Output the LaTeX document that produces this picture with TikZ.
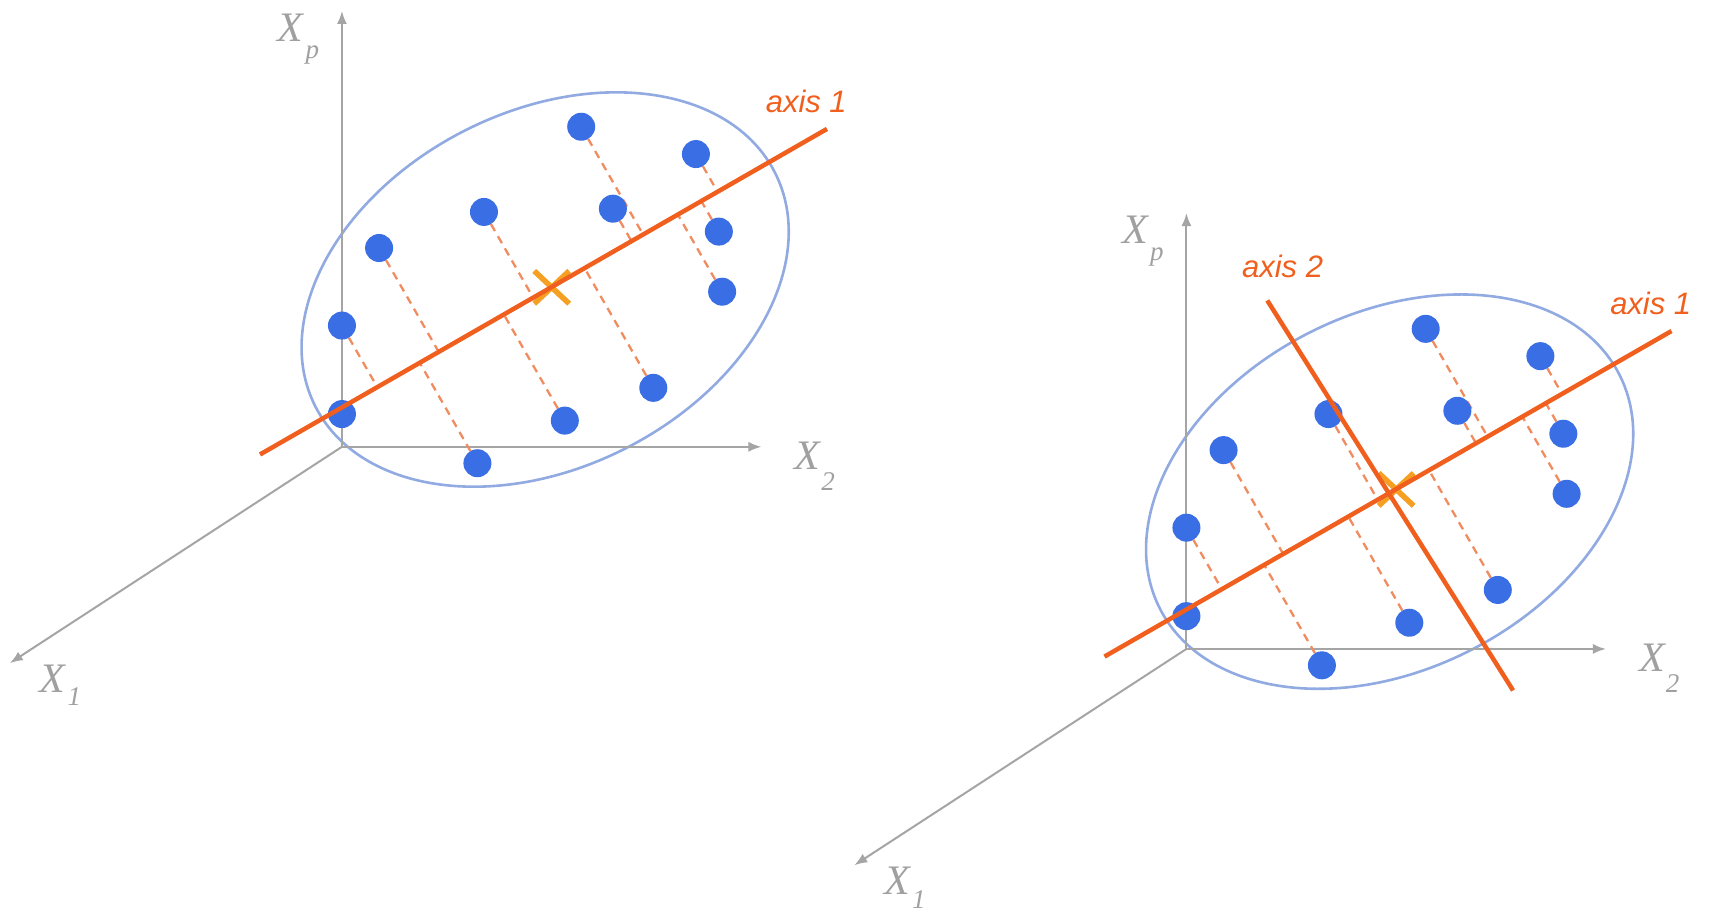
\documentclass[tikz,border=0pt]{standalone}
\usepackage{fontspec}
\setmainfont{Liberation Serif}
\newfontfamily\axisfont{Liberation Sans}
\usetikzlibrary{arrows.meta,calc}
\definecolor{dotblue}{RGB}{58,110,228}
\definecolor{ellblue}{RGB}{145,170,225}
\definecolor{axorange}{RGB}{240,95,30}
\definecolor{crossorange}{RGB}{245,160,35}
\definecolor{dashorange}{RGB}{240,140,95}
\definecolor{axgray}{RGB}{165,165,165}
\definecolor{labgray}{RGB}{160,160,160}
\tikzset{
  dotnode/.style={circle, fill=dotblue, inner sep=0pt, minimum size=28pt},
  ell/.style={draw=ellblue, line width=2.6pt},
  coordaxis/.style={draw=axgray, line width=2pt, -{Latex[length=13pt,width=10pt]}},
  pcaaxis/.style={draw=axorange, line width=4.5pt},
  projline/.style={draw=dashorange, line width=2.3pt, dash pattern=on 8pt off 6pt},
  crossline/.style={draw=crossorange, line width=5.5pt},
  varlabel/.style={text=labgray, font=\fontsize{42}{42}\selectfont\itshape, inner sep=0pt},
  sublabel/.style={text=labgray, font=\fontsize{27}{27}\selectfont\itshape, inner sep=0pt},
  axislabel/.style={text=axorange, font=\axisfont\fontsize{31}{31}\selectfont\itshape, inner sep=0pt},
}
\newcommand{\pcapanel}{%
  % coordinate axes
  \coordinate (O) at (313,409);
  \coordinate (Ptip) at (313,10);
  \coordinate (Btip) at (697,409);
  \coordinate (Atip) at (9,607);
  % data points
  \foreach \n/\px/\py in {1/532/116, 2/637/141, 3/443/194, 4/561/191, 5/658/212,
      6/347/227, 7/661/267, 8/313/298, 9/598/355, 10/517/385, 11/313/379, 12/437/424}
    {\coordinate (p\n) at (\px,\py);}
  % principal axis 1
  \coordinate (A) at (238,416);
  \coordinate (B) at (757,118);
  \coordinate (C) at (505,263);
  \coordinate (E) at (499,265);
  % ellipse
  \draw[ell, rotate around={27:(E)}] (E) ellipse [x radius=236, y radius=163];
  % axes
  \draw[coordaxis] (O) -- (Ptip);
  \draw[coordaxis] (O) -- (Btip);
  \draw[coordaxis] (O) -- (Atip);
  \node[varlabel] (xp) at (266,25) {X};
  \node[sublabel] (xps) at (286,50) {p};
  \node[varlabel] (x2) at (739,417) {X};
  \node[sublabel] (x2s) at (758,441) {2};
  \node[varlabel] (x1) at (48,621) {X};
  \node[sublabel] (x1s) at (68,638) {1};
  % projections
  \foreach \n in {1,2,3,4,5,6,7,8,9,10,12}
    {\coordinate (f\n) at ($(A)!(p\n)!(B)$);
     \draw[projline] (p\n) -- (f\n);}
  % centre cross
  \coordinate (c1) at ($(C)+(-16,-15)$);
  \coordinate (c2) at ($(C)+(16,15)$);
  \coordinate (c3) at ($(C)+(-16,15)$);
  \coordinate (c4) at ($(C)+(16,-15)$);
  \draw[crossline] (c1) -- (c2);
  \draw[crossline] (c3) -- (c4);
  % dots
  \foreach \n in {1,...,12}
    {\node[dotnode] (d\n) at (p\n) {};}
  % axis 1
  \draw[pcaaxis] (A) -- (B);
  \node[axislabel] (ax1) at (738,93) {axis 1};
}
\begin{document}
\begin{tikzpicture}[x=1.0925pt, y=-1.0925pt]
\useasboundingbox (0,0) rectangle (1568,837);
\begin{scope}[name prefix=L-]
  \pcapanel
\end{scope}
\begin{scope}[name prefix=R-, shift={(773,185)}]
  \pcapanel
  \coordinate (T2) at (387,90);
  \coordinate (U2) at (612,447);
  \draw[pcaaxis] (T2) -- (U2);
  \node[axislabel] (ax2) at (401,59) {axis 2};
\end{scope}
\end{tikzpicture}
\end{document}
